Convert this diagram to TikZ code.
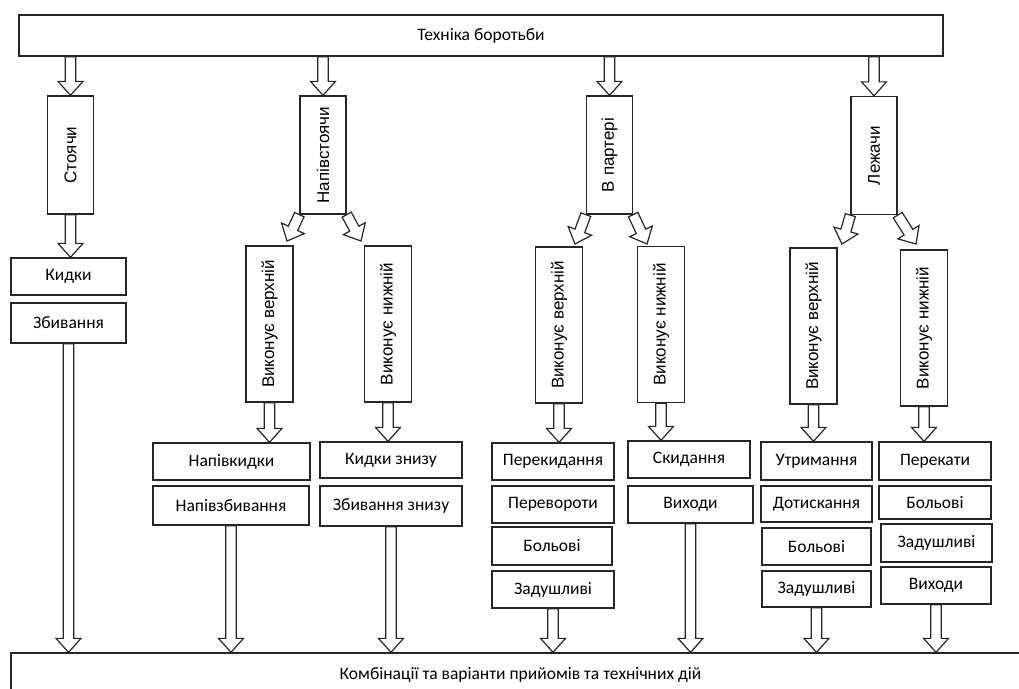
\documentclass[tikz,border=0pt]{standalone}
\usepackage{fontspec}
\setmainfont{Carlito}
\newfontfamily\arialfont{Liberation Sans}
\usepackage{graphicx}
\usetikzlibrary{calc,backgrounds}
\newcommand{\arrshaft}{5.2pt}
\newcommand{\arrhead}{12.5pt}
\newcommand{\arrlen}{14pt}
\tikzstyle{box}=[draw=black!85,line width=1.3pt,fill=white,inner sep=0pt,font=\fontsize{17.5}{20}\selectfont]
\tikzstyle{vbox}=[box,font=\arialfont\fontsize{17}{20}\selectfont]
\tikzstyle{blockarrow}=[draw=black!85,fill=white,line width=1.2pt,
  to path={($(\tikztotarget)!\arrlen!(\tikztostart)$) coordinate (ahb)
    ($(\tikztostart)!\arrshaft!90:(\tikztotarget)$) -- ($(ahb)!\arrshaft!90:(\tikztotarget)$)
    -- ($(ahb)!\arrhead!90:(\tikztotarget)$) -- (\tikztotarget)
    -- ($(ahb)!\arrhead!-90:(\tikztotarget)$) -- ($(ahb)!\arrshaft!-90:(\tikztotarget)$)
    -- ($(\tikztostart)!\arrshaft!-90:(\tikztotarget)$) -- cycle}]

\begin{document}
\begin{tikzpicture}[x=1pt,y=-1pt]
    \useasboundingbox (0,0) rectangle (1019,688);
    \clip (0,0) rectangle (1019,688);

    % top and bottom
    \node[box,minimum width=924,minimum height=41] (top) at (481,35.5) {Техніка боротьби};
    \node[box,minimum width=1019,minimum height=43] (bot) at (520.5,674.5) {Комбінації та варіанти прийомів та технічних дій};

    % positions
    \foreach \pos/\name/\txt in {{(70.5,155)/st/Стоячи},{(323,155)/nst/Напівстоячи},
        {(609.5,155)/prt/В партері},{(874,155.5)/lzh/Лежачи}}
        \node[vbox,minimum width=46,minimum height=118] (\name) at \pos {\rotatebox{90}{\txt}};

    % who is on top
    \foreach \pos/\name/\txt in {{(269.5,324)/nv/Виконує верхній},{(388,324)/nn/Виконує нижній},
        {(559,325)/pv/Виконує верхній},{(661,324.5)/pn/Виконує нижній},
        {(813.5,326)/lv/Виконує верхній},{(924,328)/ln/Виконує нижній}}
        \node[vbox,minimum width=47,minimum height=156] (\name) at \pos {\rotatebox{90}{\txt}};

    % techniques
    \foreach \pos/\w/\h/\name/\txt in {{(68.5,276.5)/115/37/kd/Кидки},{(68.5,323)/115/40/zb/Збивання},
        {(231.5,461.5)/157/37/nk/Напівкидки},{(231,505.5)/156/39/nz/Напівзбивання},
        {(391,460)/142/36/kz/Кидки знизу},{(391,506)/142/40/zz/Збивання знизу},
        {(553,461.5)/122/37/pp/Перекидання},{(553,504.5)/122/37/pr/Перевороти},
        {(552,546)/120/38/pb/Больові},{(553,589.5)/122/37/pz/Задушливі},
        {(689,459.5)/122/37/sk/Скидання},{(690.5,504.5)/125/37/pvx/Виходи},
        {(816.5,461)/111/38/ut/Утримання},{(816.5,504)/111/36/dt/Дотискання},
        {(816.5,546.5)/109/37/lb/Больові},{(816.5,589)/109/36/lz/Задушливі},
        {(935,461)/112/38/pk/Перекати},{(935,502.5)/112/33/lnb/Больові},
        {(936.5,543)/111/38/lnz/Задушливі},{(936,585.5)/110/37/lvx/Виходи}}
        \node[box,minimum width=\w,minimum height=\h] (\name) at \pos {\txt};

    \coordinate (nst-l) at (287,241);
    \coordinate (nst-r) at (361,241);
    \coordinate (prt-l) at (575,244);
    \coordinate (prt-r) at (647,244);
    \coordinate (lzh-l) at (842,244);
    \coordinate (lzh-r) at (916,244);

    \begin{scope}[on background layer]
    % arrows
    \foreach \name in {st,nst,prt,lzh}
        \path[blockarrow] (top.south -| \name.north) to (\name.north);
    \path[blockarrow] (st.south) to (st.south |- kd.north);
    \foreach \name in {nst,prt,lzh} {
        \path[blockarrow] (\name.south west) to (\name-l);
        \path[blockarrow] (\name.south east) to (\name-r);
    }
    \foreach \source/\dest in {nv/nk,nn/kz,pv/pp,pn/sk,lv/ut,ln/pk}
        \path[blockarrow] (\source.south) to (\source.south |- \dest.north);
    \foreach \source in {zb,nz,zz,pz,pvx,lz,lvx}
        \path[blockarrow] (\source.south) to (\source.south |- bot.north);
    \end{scope}
\end{tikzpicture}
\end{document}
